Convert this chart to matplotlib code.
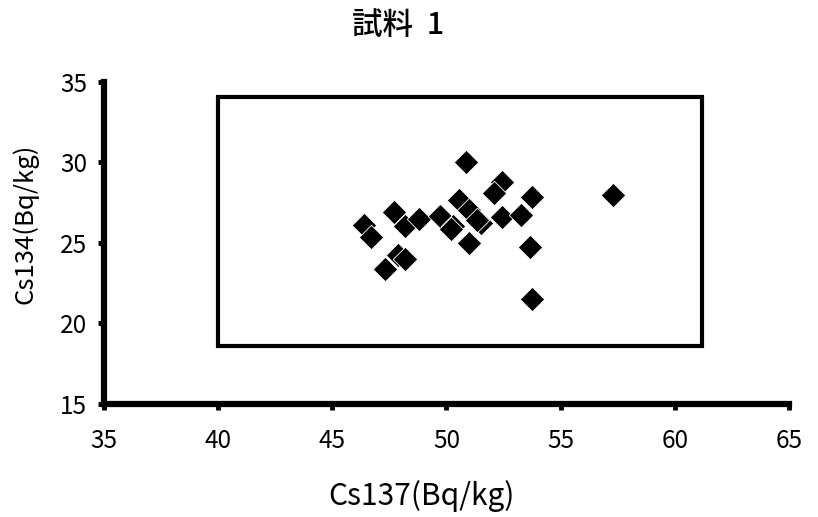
import matplotlib
matplotlib.use('Agg')
import matplotlib.pyplot as plt
from matplotlib.patches import Rectangle

plt.rcParams['font.family'] = ['Noto Sans CJK JP', 'DejaVu Sans']

# 試料1 の測定値
cs137 = [46.4, 46.7, 47.7, 48.2, 48.8, 49.7, 50.55, 50.3, 50.2, 50.97, 51.5, 50.97,
         52.45, 53.27, 53.64, 53.76, 47.9, 48.17, 47.3, 51.35, 50.85, 52.45, 52.1,
         53.76, 57.3]
cs134 = [26.1, 25.4, 26.9, 26.05, 26.5, 26.7, 27.7, 26.05, 25.9, 27.05, 26.26, 24.98,
         26.6, 26.74, 24.77, 21.5, 24.25, 23.99, 23.37, 26.4, 30.05, 28.8, 28.1,
         27.84, 27.98]

# 囲み枠 (x0, x1, y0, y1)
box_x = [40, 61.2]
box_y = [18.6, 34.05]

fig = plt.figure(figsize=(8.18, 5.17), dpi=100)
ax = fig.add_axes([0.127, 0.2186, 0.8375, 0.6228])

ax.add_patch(Rectangle((box_x[0], box_y[0]), box_x[1] - box_x[0], box_y[1] - box_y[0],
                       fill=False, edgecolor='black', linewidth=3))
ax.scatter(cs137, cs134, marker='D', s=155, color='black', edgecolor='white',
           linewidth=0.6, zorder=3)

ax.set_xlim(35, 65)
ax.set_ylim(15, 35)
ax.set_xticks(range(35, 66, 5))
ax.set_yticks(range(15, 36, 5))
for s in ['top', 'right']:
    ax.spines[s].set_visible(False)
for s in ['left', 'bottom']:
    ax.spines[s].set_linewidth(4.5)
    ax.spines[s].set_capstyle('projecting')
ax.tick_params(width=3.5, length=4, labelsize=17.5)
ax.tick_params(axis='x', pad=13)
ax.tick_params(axis='y', pad=8)

# タイトルは図全体の中央
fig.text(0.487, 0.95, '試料  1', fontsize=22, fontweight='medium',
         ha='center', va='center')
ax.set_xlabel('Cs137(Bq/kg)', fontsize=21.5)
ax.set_ylabel('Cs134(Bq/kg)', fontsize=18.5)
ax.xaxis.set_label_coords(0.463, -0.285)
ax.yaxis.set_label_coords(-0.115, 0.56)
ax.xaxis.label.set_va('center')
ax.yaxis.label.set_va('center')

fig.savefig('out.png', dpi=100)
